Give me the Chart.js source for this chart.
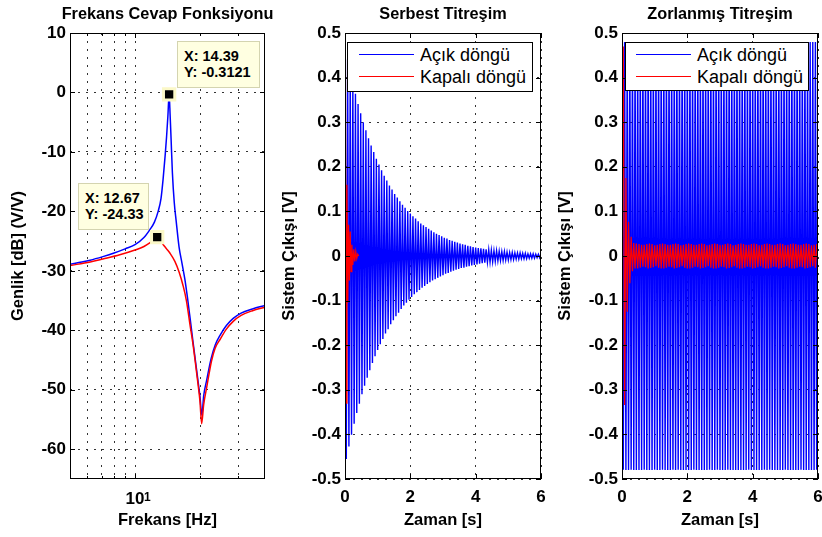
<!DOCTYPE html>
<html>
<head>
<meta charset="utf-8">
<script src="https://cdn.jsdelivr.net/npm/chart.js@4.4.0/dist/chart.umd.min.js"></script>
<style>
html, body { margin: 0; padding: 0; background: #fff; width: 822px; height: 537px; overflow: hidden; }
.panel { position: absolute; top: 0; height: 537px; }
.legend { position: absolute; box-sizing: border-box; background: #fff; border: 1px solid #000; z-index: 2; }
.legend .line { position: absolute; height: 1px; }
.legend .text { position: absolute; font: 18px "Liberation Sans", Arial, sans-serif; line-height: 20px; color: #000; white-space: nowrap; }
.tip { position: absolute; box-sizing: border-box; background: #ffffe1; border: 1px solid #d4d4b0;
  font: bold 14.5px "Liberation Sans", Arial, sans-serif; line-height: 16px; color: #000;
  padding: 6px 0 0 6px; white-space: pre; z-index: 2; }
</style>
</head>
<body>
<div class="panel" style="left:0;width:335px"><canvas id="frekans"></canvas></div>
<div class="panel" style="left:275px;width:336px"><canvas id="serbest"></canvas></div>
<div class="panel" style="left:550px;width:340px"><canvas id="zorlanmis"></canvas></div>

<div class="tip" id="tip0" style="left:177px;top:41px;width:83px;height:47px"></div>
<div class="tip" id="tip1" style="left:78px;top:183px;width:71px;height:47px"></div>
<div class="legend" id="leg1" style="left:347px;top:42px;width:186px;height:50px" data-line="11" data-text="72"></div>
<div class="legend" id="leg2" style="left:625px;top:42px;width:184px;height:49px" data-line="10" data-text="71"></div>

<script>
// Frekans cevabı (okunan değerler)
const frekansAcikHz = [5.0, 5.5, 6.2, 7.1, 8.0, 9.0, 10.0, 11.0, 11.7, 12.3, 12.8, 13.2, 13.5, 13.8, 14.0, 14.2, 14.39,
  14.55, 14.7, 14.9, 15.2, 15.5, 16.0, 16.5, 17.0, 17.5, 18.0, 18.5, 19.0, 19.5, 20.0, 20.4, 20.8, 21.5, 22.5,
  23.5, 24.8, 26.5, 28.5, 31.0, 35.0, 40.0];
const frekansAcikDb = [-28.9, -28.6, -28.2, -27.6, -27.0, -26.3, -25.6, -24.4, -23.1, -21.8, -20.0, -17.8, -14.5, -10.5, -7.5, -4.0, -0.31,
  -4.0, -8.0, -13.5, -18.5, -21.5, -26.0, -28.7, -31.3, -34.5, -38.0, -41.5, -44.8, -48.0, -51.2, -54.3, -51.0, -48.3, -44.8,
  -42.5, -40.8, -39.2, -38.0, -37.1, -36.4, -35.8];
const frekansKapaliHz = [5.0, 6.2, 7.1, 8.5, 10.0, 11.0, 11.7, 12.3, 12.67, 13.0, 13.4, 14.0, 14.5, 15.3, 16.0, 16.7,
  17.3, 18.0, 18.5, 19.0, 19.5, 20.0, 20.35, 20.8, 21.5, 22.6, 23.5, 24.8, 26.5, 28.5, 31.0, 35.0, 40.0];
const frekansKapaliDb = [-29.1, -28.5, -28.0, -27.3, -26.5, -25.9, -25.3, -24.7, -24.33, -24.6, -25.4, -26.3, -27.0, -28.4, -30.2, -32.5,
  -35.0, -39.2, -42.0, -45.2, -48.5, -52.0, -55.7, -52.5, -49.5, -45.2, -43.0, -41.5, -39.8, -38.5, -37.5, -36.7, -36.1];
const isaretciX = [14.39, 12.67];
const isaretciY = [-0.3121, -24.33];

const frekansTikleri = [6, 7, 8, 9, 10, 20, 30];
const frekansEtiketleri = ['', '', '', '', '10', '', ''];
const frekansUsler = ['', '', '', '', '1', '', ''];
const genlikTikleri = [10, 0, -10, -20, -30, -40, -50, -60];
const zamanTikleri = [0, 2, 4, 6];
const cikisTikleri = [0.5, 0.4, 0.3, 0.2, 0.1, 0, -0.1, -0.2, -0.3, -0.4, -0.5];

// Zaman cevapları: tepe değerleri, örnekleme aralığı 0.04 s
const ornekAdimi = 0.04;
const serbestAcik = [
  0.470, -0.455, 0.441, -0.427, 0.414, -0.401, 0.388, -0.376, 0.364, -0.352,
  0.341, -0.331, 0.320, -0.310, 0.300, -0.291, 0.282, -0.273, 0.264, -0.256,
  0.248, -0.240, 0.233, -0.225, 0.218, -0.211, 0.205, -0.198, 0.192, -0.186,
  0.180, -0.174, 0.169, -0.164, 0.158, -0.153, 0.149, -0.144, 0.139, -0.135,
  0.131, -0.127, 0.123, -0.119, 0.115, -0.111, 0.108, -0.105, 0.101, -0.098,
  0.095, -0.092, 0.089, -0.086, 0.084, -0.081, 0.078, -0.076, 0.073, -0.071,
  0.069, -0.067, 0.065, -0.063, 0.061, -0.059, 0.057, -0.055, 0.053, -0.052,
  0.050, -0.049, 0.047, -0.046, 0.044, -0.043, 0.041, -0.040, 0.039, -0.038,
  0.036, -0.035, 0.034, -0.033, 0.032, -0.031, 0.030, -0.029, 0.028, -0.027,
  0.026, -0.026, 0.025, -0.024, 0.023, -0.023, 0.022, -0.021, 0.020, -0.020,
  0.019, -0.019, 0.018, -0.017, 0.017, -0.016, 0.016, -0.015, 0.015, -0.014,
  0.014, -0.014, 0.013, -0.013, 0.012, -0.012, 0.012, -0.011, 0.011, -0.010,
  0.010, -0.010, 0.010, -0.009, 0.009, -0.009, 0.008, -0.008, 0.008, -0.008,
  0.007, -0.007, 0.007, -0.007, 0.007, -0.006, 0.006, -0.006, 0.006, -0.006,
  0.005, -0.005, 0.005, -0.005, 0.005, -0.005, 0.004, -0.004, 0.004, -0.004,
  0.004
];
const serbestKapaliT = [0, 0.012, 0.035, 0.06, 0.085, 0.11, 0.135, 0.16, 0.185, 0.21, 0.24, 0.27, 0.30, 0.33, 0.36, 0.39, 0.42];
const serbestKapali = [0, 0.470, -0.330, 0.160, -0.105, 0.070, -0.055, 0.055, -0.035, 0.025, -0.020, 0.015, -0.012, 0.010, -0.006, 0.004, 0];

const zorlanmisAcik = [
  0.480, -0.479, 0.480, -0.480, 0.479, -0.480, 0.480, -0.479, 0.480, -0.480,
  0.480, -0.480, 0.479, -0.480, 0.480, -0.480, 0.480, -0.479, 0.480, -0.480,
  0.479, -0.480, 0.480, -0.480, 0.480, -0.479, 0.480, -0.480, 0.480, -0.480,
  0.480, -0.479, 0.480, -0.480, 0.479, -0.480, 0.480, -0.480, 0.480, -0.479,
  0.480, -0.480, 0.480, -0.479, 0.480, -0.480, 0.479, -0.480, 0.480, -0.480,
  0.480, -0.480, 0.479, -0.480, 0.480, -0.479, 0.480, -0.480, 0.480, -0.480,
  0.479, -0.480, 0.480, -0.480, 0.480, -0.480, 0.480, -0.479, 0.480, -0.480,
  0.480, -0.480, 0.480, -0.479, 0.480, -0.480, 0.479, -0.480, 0.480, -0.480,
  0.480, -0.479, 0.480, -0.480, 0.480, -0.480, 0.480, -0.480, 0.479, -0.480,
  0.480, -0.480, 0.479, -0.480, 0.480, -0.480, 0.480, -0.479, 0.480, -0.480,
  0.480, -0.480, 0.480, -0.480, 0.479, -0.480, 0.480, -0.480, 0.480, -0.479,
  0.480, -0.480, 0.480, -0.479, 0.480, -0.480, 0.480, -0.480, 0.479, -0.480,
  0.480, -0.480, 0.480, -0.480, 0.480, -0.479, 0.480, -0.480, 0.480, -0.480,
  0.479, -0.480, 0.480, -0.480, 0.480, -0.480, 0.480, -0.479, 0.480, -0.480,
  0.480, -0.480, 0.479, -0.480, 0.480, -0.480, 0.480, -0.480, 0.480, -0.479,
  0.480
];
const zorlanmisKapali = [
  0, 0.470, -0.334, 0.175, -0.125, 0.077, -0.061, 0.043, -0.034, 0.029, -0.028,
  0.028, -0.028, 0.027, -0.026, 0.025, -0.024, 0.025, -0.025, 0.027, -0.028,
  0.028, -0.027, 0.027, -0.025, 0.024, -0.023, 0.025, -0.026, 0.027, -0.028,
  0.028, -0.028, 0.027, -0.026, 0.025, -0.024, 0.025, -0.025, 0.027, -0.028,
  0.028, -0.027, 0.027, -0.025, 0.024, -0.023, 0.025, -0.026, 0.027, -0.028,
  0.028, -0.028, 0.027, -0.026, 0.025, -0.024, 0.025, -0.025, 0.027, -0.028,
  0.028, -0.027, 0.027, -0.025, 0.024, -0.023, 0.025, -0.026, 0.027, -0.028,
  0.028, -0.028, 0.027, -0.026, 0.025, -0.024, 0.025, -0.025, 0.027, -0.028,
  0.028, -0.027, 0.027, -0.025, 0.024, -0.023, 0.025, -0.026, 0.027, -0.028,
  0.028, -0.028, 0.027, -0.026, 0.025, -0.024, 0.025, -0.025, 0.027, -0.028,
  0.028, -0.027, 0.027, -0.025, 0.024, -0.023, 0.025, -0.026, 0.027, -0.028,
  0.028, -0.028, 0.027, -0.026, 0.025, -0.024, 0.025, -0.025, 0.027, -0.028,
  0.028, -0.027, 0.027, -0.025, 0.024, -0.023, 0.025, -0.026, 0.027, -0.028,
  0.028, -0.028, 0.027, -0.026, 0.025, -0.024, 0.025, -0.025, 0.027, -0.028,
  0.028, -0.027, 0.027, -0.025, 0.024, -0.023, 0.025, -0.026, 0.027, -0.028
];

const seriAdlari = ['Açık döngü', 'Kapalı döngü'];
const seriRenkleri = ['#0000ff', '#ff0000'];

Chart.defaults.font.family = '"Liberation Sans", Arial, sans-serif';
Chart.defaults.color = '#000';

function noktalar(xs, ys) {
    return ys.map((y, i) => ({ x: xs[i], y: y }));
}
function zamanEkseni(seri) {
    return seri.map((_, i) => +(i * ornekAdimi).toFixed(2));
}

// Eksen çerçevesi, içe dönük tik çizgileri ve üst simgeler (MATLAB görünümü)
const cerceve = {
    id: 'cerceve',
    afterDatasetsDraw(chart, args, opts) {
        const { ctx, chartArea: a } = chart;
        const xs = chart.scales.x, ys = chart.scales.y;
        const kucuk = opts.kucukTikler || [];
        ctx.save();
        ctx.strokeStyle = '#000';
        ctx.lineWidth = 1;
        ctx.beginPath();
        ys.ticks.forEach(t => {
            const p = Math.round(ys.getPixelForValue(t.value)) + 0.5;
            ctx.moveTo(a.left, p); ctx.lineTo(a.left + 5, p);
            ctx.moveTo(a.right, p); ctx.lineTo(a.right - 5, p);
        });
        xs.ticks.forEach(t => {
            const len = kucuk.includes(t.value) ? 3 : 5;
            const p = Math.round(xs.getPixelForValue(t.value)) + 0.5;
            ctx.moveTo(p, a.top); ctx.lineTo(p, a.top + len);
            ctx.moveTo(p, a.bottom); ctx.lineTo(p, a.bottom - len);
        });
        ctx.stroke();
        ctx.strokeRect(Math.round(a.left) + 0.5, Math.round(a.top) + 0.5, Math.round(a.width) - 1, Math.round(a.height) - 1);
        if (opts.usler) {
            ctx.font = 'bold 12px "Liberation Sans", Arial, sans-serif';
            ctx.fillStyle = '#000';
            ctx.textAlign = 'left';
            ctx.textBaseline = 'alphabetic';
            opts.usler.forEach((u, i) => {
                if (!u) return;
                const p = xs.getPixelForValue(frekansTikleri[i]);
                ctx.fillText(u, p + 9, a.bottom + 22);
            });
        }
        ctx.restore();
    }
};

const izgara = { color: '#333', lineWidth: 1, drawTicks: false };
const kesikli = { display: false, dash: [2, 6] };
const tikFont = { size: 17, weight: 'bold' };
const eksenFont = { size: 16.5, weight: 'bold' };

function ortakAyarlar(baslik, yBaslik, yGenislik, yBaslikBosluk, sagGenislik) {
    return {
        responsive: true,
        maintainAspectRatio: false,
        animation: false,
        events: [],
        layout: { padding: 0 },
        plugins: {
            legend: { display: false },
            tooltip: { enabled: false },
            title: {
                display: true, text: baslik,
                font: { size: 16.3, weight: 'bold' }, padding: { top: 5, bottom: 8.44 }
            },
            cerceve: {}
        },
        scales: {
            y: {
                grid: izgara, border: kesikli,
                ticks: { font: tikFont, padding: 4, callback: v => String(v) },
                title: { display: true, text: yBaslik, font: eksenFont, padding: { top: yBaslikBosluk, bottom: 0 } },
                afterFit: s => { s.width = yGenislik; }
            },
            // sağda boş yer: başlık eksen alanının ortasına gelsin diye
            bos: {
                type: 'linear', position: 'right', display: true,
                grid: { display: false }, border: { display: false }, ticks: { display: false },
                afterFit: s => { s.width = sagGenislik; }
            }
        }
    };
}

// 1) Frekans Cevap Fonksiyonu
const opt1 = ortakAyarlar('Frekans Cevap Fonksiyonu', 'Genlik [dB] (V/V)', 70, 8.9, 70);
opt1.plugins.cerceve = { kucukTikler: [6, 7, 8, 9, 20, 30], usler: frekansUsler };
opt1.scales.y.min = -65;
opt1.scales.y.max = 10;
opt1.scales.y.afterBuildTicks = s => { s.ticks = genlikTikleri.map(v => ({ value: v })); };
opt1.scales.x = {
    type: 'logarithmic', min: 5, max: 40,
    grid: izgara, border: kesikli,
    afterBuildTicks: s => { s.ticks = frekansTikleri.map(v => ({ value: v })); },
    ticks: { font: tikFont, padding: 10, maxRotation: 0, autoSkip: false,
        callback: (v) => frekansEtiketleri[frekansTikleri.indexOf(v)] || '' },
    title: { display: true, text: 'Frekans [Hz]', font: eksenFont, padding: { top: 0, bottom: 6.5 } },
    afterFit: s => { s.height = 58; }
};
new Chart(document.getElementById('frekans'), {
    type: 'line',
    data: {
        datasets: [
            { label: 'İşaretçi', data: noktalar(isaretciX, isaretciY), showLine: false, order: -1,
              pointStyle: 'rect', pointRadius: 8, backgroundColor: '#000', borderColor: '#fbf8c8', borderWidth: 3 },
            { label: seriAdlari[1], data: noktalar(frekansKapaliHz, frekansKapaliDb), order: 0,
              borderColor: seriRenkleri[1], borderWidth: 1.5, pointRadius: 0, cubicInterpolationMode: 'monotone' },
            { label: seriAdlari[0], data: noktalar(frekansAcikHz, frekansAcikDb), order: 1,
              borderColor: seriRenkleri[0], borderWidth: 1.5, pointRadius: 0, cubicInterpolationMode: 'monotone' }
        ]
    },
    options: opt1,
    plugins: [cerceve]
});

// 2) ve 3) zaman cevapları
function zamanGrafigi(id, baslik, acik, acikT, kapali, kapaliT, yGenislik, yBaslikBosluk, sagGenislik) {
    const opt = ortakAyarlar(baslik, 'Sistem Çıkışı [V]', yGenislik, yBaslikBosluk, sagGenislik);
    opt.scales.y.min = -0.5;
    opt.scales.y.max = 0.5;
    opt.scales.y.afterBuildTicks = s => { s.ticks = cikisTikleri.map(v => ({ value: v })); };
    opt.scales.x = {
        type: 'linear', min: 0, max: 6,
        grid: izgara, border: kesikli,
        afterBuildTicks: s => { s.ticks = zamanTikleri.map(v => ({ value: v })); },
        ticks: { font: tikFont, padding: 8, maxRotation: 0, callback: v => String(v) },
        title: { display: true, text: 'Zaman [s]', font: eksenFont, padding: { top: 0, bottom: 7 } },
        afterFit: s => { s.height = 58; }
    };
    new Chart(document.getElementById(id), {
        type: 'line',
        data: {
            datasets: [
                { label: seriAdlari[1], data: noktalar(kapaliT, kapali), order: 0,
                  borderColor: seriRenkleri[1], borderWidth: 1.2, pointRadius: 0 },
                { label: seriAdlari[0], data: noktalar(acikT, acik), order: 1,
                  borderColor: seriRenkleri[0], borderWidth: 1.4, pointRadius: 0 }
            ]
        },
        options: opt,
        plugins: [cerceve]
    });
}
zamanGrafigi('serbest', 'Serbest Titreşim', serbestAcik, zamanEkseni(serbestAcik),
    serbestKapali, serbestKapaliT, 70, 4.4, 70);
zamanGrafigi('zorlanmis', 'Zorlanmış Titreşim', zorlanmisAcik, zamanEkseni(zorlanmisAcik),
    zorlanmisKapali, zamanEkseni(zorlanmisKapali), 72, 5.4, 72);

// Lejantlar ve veri ipuçları
function lejant(id) {
    const el = document.getElementById(id);
    const cizgiX = +el.dataset.line, yaziX = +el.dataset.text;
    seriAdlari.forEach((ad, i) => {
        const cizgi = document.createElement('div');
        cizgi.className = 'line';
        cizgi.style.cssText = 'left:' + cizgiX + 'px;width:55px;top:' + (11 + 22 * i) + 'px;background:' + seriRenkleri[i];
        const yazi = document.createElement('div');
        yazi.className = 'text';
        yazi.style.cssText = 'left:' + yaziX + 'px;top:' + (2 + 22 * i) + 'px';
        yazi.textContent = ad;
        el.appendChild(cizgi);
        el.appendChild(yazi);
    });
}
lejant('leg1');
lejant('leg2');
isaretciX.forEach((x, i) => {
    document.getElementById('tip' + i).textContent = 'X: ' + x + '\nY: ' + isaretciY[i];
});
</script>
</body>
</html>
